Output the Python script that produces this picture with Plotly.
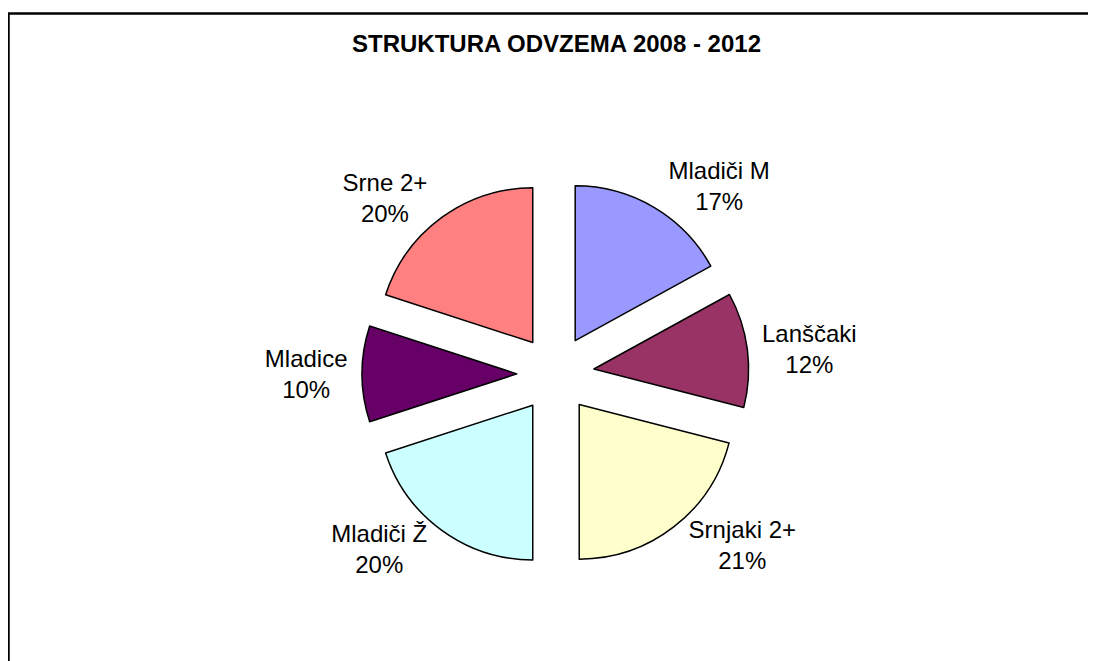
import plotly.graph_objects as go

labels = ["Mladiči M", "Lanščaki", "Srnjaki 2+", "Mladiči Ž", "Mladice", "Srne 2+"]
values = [17, 12, 21, 20, 10, 20]
colors = ["#9999FF", "#993366", "#FFFFCC", "#CCFFFF", "#660066", "#FF8080"]

# page has an 8px body margin, so the figure is sized to fill the rest of the window
OFF = 8
W, H = 1096 - OFF, 661 - OFF
cx, cy = 555.5 - OFF, 375.0 - OFF
half = 194.0

FONT = "Liberation Sans, Arial, sans-serif"

fig = go.Figure(go.Pie(
    labels=labels,
    values=values,
    sort=False,
    direction="clockwise",
    rotation=0,
    pull=[0.25] * len(values),
    marker=dict(colors=colors, line=dict(color="black", width=1.5)),
    texttemplate="%{label}<br>%{percent:.0%}",
    textposition="outside",
    textfont=dict(family=FONT, size=24, color="black"),
    hoverinfo="label+percent",
    showlegend=False,
    domain=dict(x=[(cx - half) / W, (cx + half) / W],
                y=[(H - cy - half) / H, (H - cy + half) / H]),
))

fig.update_layout(
    width=W, height=H,
    margin=dict(l=0, r=0, t=0, b=0),
    paper_bgcolor="white",
    plot_bgcolor="white",
    title=dict(text="<b>STRUKTURA ODVZEMA 2008 - 2012</b>",
               x=(556.5 - OFF) / W, xanchor="center", y=1 - (43.5 - OFF) / H, yanchor="middle",
               font=dict(family=FONT, size=24, color="black")),
    shapes=[
        dict(type="line", xref="paper", yref="paper", x0=0, x1=1.05, y0=1 - (13.5 - OFF) / H, y1=1 - (13.5 - OFF) / H,
             line=dict(color="black", width=2.5)),
        dict(type="line", xref="paper", yref="paper", x0=0.5 / W, x1=0.5 / W, y0=1 - (13.5 - OFF) / H, y1=-0.05,
             line=dict(color="black", width=2.5)),
    ],
)

fig.write_html("out.html")
